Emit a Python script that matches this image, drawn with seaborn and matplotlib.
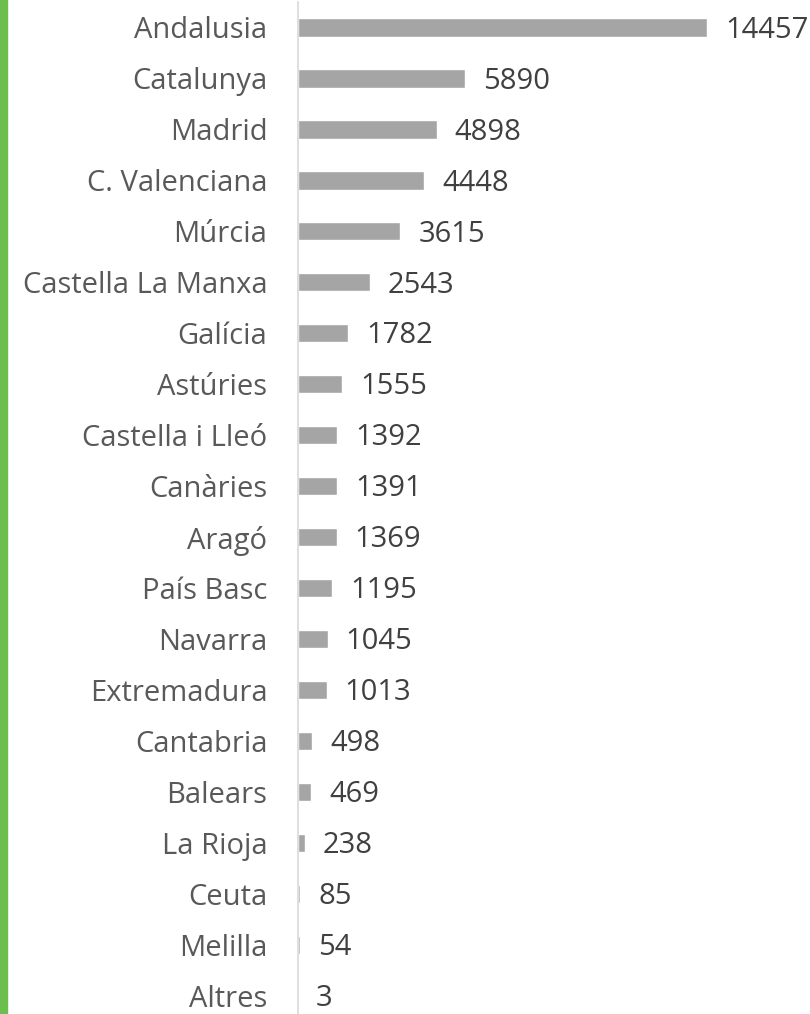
import matplotlib
matplotlib.use("Agg")
import matplotlib.pyplot as plt
import seaborn as sns
import pandas as pd
from matplotlib.patches import Rectangle

regions = ["Andalusia", "Catalunya", "Madrid", "C. Valenciana", "Múrcia",
           "Castella La Manxa", "Galícia", "Astúries", "Castella i Lleó",
           "Canàries", "Aragó", "País Basc", "Navarra", "Extremadura",
           "Cantabria", "Balears", "La Rioja", "Ceuta", "Melilla", "Altres"]
counts = [14457, 5890, 4898, 4448, 3615, 2543, 1782, 1555, 1392, 1391,
          1369, 1195, 1045, 1013, 498, 469, 238, 85, 54, 3]

df = pd.DataFrame({"region": regions, "count": counts})

sns.set_style("white")
plt.rcParams["font.family"] = ["Open Sans", "DejaVu Sans"]

fig = plt.figure(figsize=(8.1, 10.14), dpi=100)
ax = fig.add_axes([298 / 810, 0, 512 / 810, 1012 / 1014])

sns.barplot(data=df, x="count", y="region", color="#a5a5a5", width=0.36,
            saturation=1, ax=ax, orient="h")

# value labels, nudged a bit down like the original
for i, c in enumerate(counts):
    ax.annotate(str(c), xy=(c, i), xytext=(13, -2), textcoords="offset points",
                ha="left", va="center", fontsize=21, color="#404040")

ax.set_xlim(0, 18100)
ax.set_ylim(19.36, -0.5)
ax.set_xlabel("")
ax.set_ylabel("")
ax.set_xticks([])
ax.tick_params(axis="y", length=0, pad=22, labelsize=21, labelcolor="#595959")
for s in ["top", "right", "bottom"]:
    ax.spines[s].set_visible(False)
ax.spines["left"].set_color("#d9d9d9")
ax.spines["left"].set_linewidth(1.2)

# green strip on the left edge
fig.patches.append(Rectangle((0, 0), 7 / 810, 1, transform=fig.transFigure,
                             color="#6cbf4c", zorder=5))

fig.savefig("out.png", dpi=100)
